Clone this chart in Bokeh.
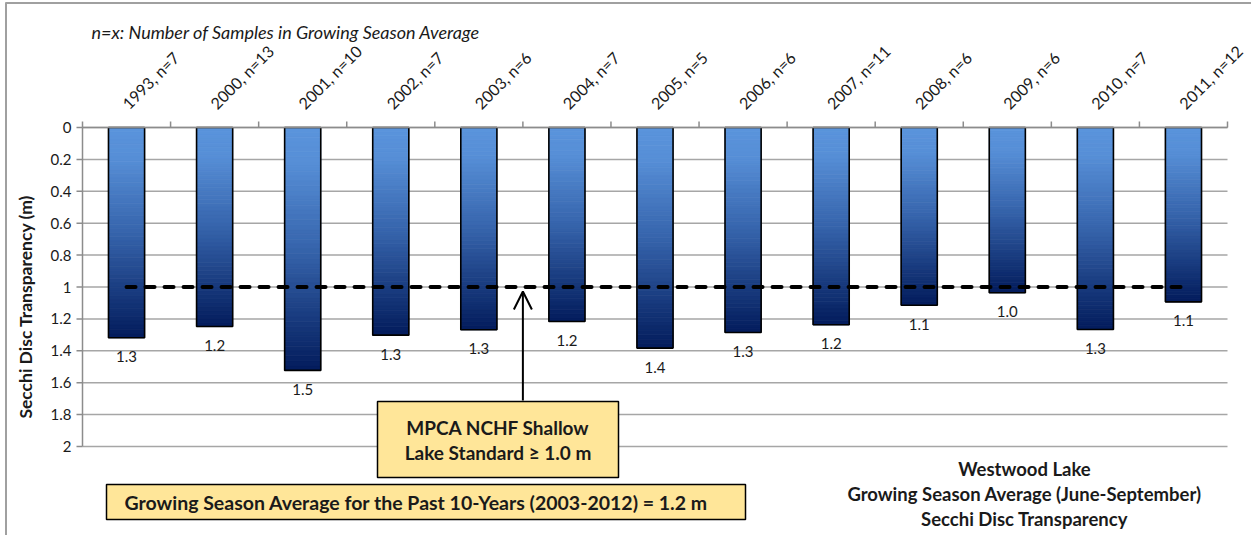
import numpy as np
from math import pi
from bokeh.plotting import figure
from bokeh.models import Range1d, Arrow, OpenHead
from bokeh.core.properties import value
from bokeh.embed import file_html
from bokeh.resources import INLINE

# ---------------- data ----------------
years = ["1993", "2000", "2001", "2002", "2003", "2004", "2005",
         "2006", "2007", "2008", "2009", "2010", "2011"]
samples = [7, 13, 10, 7, 6, 7, 5, 6, 11, 6, 6, 7, 12]
secchi_m = [1.318, 1.248, 1.523, 1.302, 1.268, 1.216, 1.383,
            1.285, 1.237, 1.114, 1.036, 1.266, 1.093]
standard_m = 1.0
y_ticks = [0, 0.2, 0.4, 0.6, 0.8, 1.0, 1.2, 1.4, 1.6, 1.8, 2.0]

note_text = "n=x: Number of Samples in Growing Season Average"
y_label = "Secchi  Disc Transparency (m)"
standard_lines = ["MPCA NCHF Shallow", "Lake Standard \u2265 1.0 m"]
avg_text = "Growing Season Average for the Past 10-Years (2003-2012) = 1.2 m"
title_lines = ["Westwood Lake", "Growing Season Average (June-September)",
               "Secchi Disc Transparency"]

FONT = "Lato"
n = len(years)
x_centers = np.arange(n) + 0.5
boundaries = np.arange(n + 1)
cat_labels = [f"{y}, n={s}" for y, s in zip(years, samples)]
val_labels = [f"{v:.1f}" for v in secchi_m]
tick_labels = [f"{t:g}" for t in y_ticks]

# ---------------- screen mapping (whole canvas is the frame) ----------------
W, H = 1251, 535
X0, Y0 = 82.0, 127.0            # position of category 0 / depth 0
PXX = 1145.0 / n                # pixels per category
PXY = 159.5                     # pixels per metre


def px_x(sx):
    return (sx - X0) / PXX


def px_y(sy):
    return (sy - Y0) / PXY


p = figure(width=W, height=H, min_border=0,
           x_range=Range1d(px_x(0), px_x(W)),
           y_range=Range1d(px_y(H), px_y(0)),
           x_axis_location=None, y_axis_location=None,
           output_backend="svg", toolbar_location=None)
p.outline_line_color = None
p.xgrid.visible = False
p.ygrid.visible = False
p.background_fill_color = "white"
p.border_fill_color = "white"

AX = "#8C8C8C"
GRID = "#A6A6A6"
TXT = "#1A1A1A"

# chart border (left and top)
p.segment(x0=[px_x(5.5)], x1=[px_x(5.5)], y0=[px_y(2)], y1=[px_y(H)],
          line_color="#A0A0A0", line_width=2)
p.segment(x0=[px_x(5)], x1=[px_x(W)], y0=[px_y(2.5)], y1=[px_y(2.5)],
          line_color="#A0A0A0", line_width=2)

# grid lines
p.segment(x0=[0] * len(y_ticks), x1=[n] * len(y_ticks), y0=y_ticks,
          y1=y_ticks, line_color=GRID, line_width=1.5)

# ---------------- gradient bars ----------------
stops = [(0.0, (90, 148, 220)), (0.15, (86, 142, 214)), (0.5, (54, 100, 172)),
         (1.0, (3, 28, 92))]


def grad(t):
    for (t0, c0), (t1, c1) in zip(stops[:-1], stops[1:]):
        if t <= t1:
            f = (t - t0) / (t1 - t0)
            c = [int(round(a + (b - a) * f)) for a, b in zip(c0, c1)]
            return "#%02x%02x%02x" % tuple(c)
    return "#%02x%02x%02x" % stops[-1][1]


BAR_W = 0.41
K = 50
L, R, T, B, C = [], [], [], [], []
for xc, v in zip(x_centers, secchi_m):
    edges = np.linspace(0, v, K + 1)
    for k in range(K):
        L.append(xc - BAR_W / 2)
        R.append(xc + BAR_W / 2)
        T.append(edges[k])
        B.append(edges[k + 1])
        C.append(grad((k + 0.5) / K))
p.quad(left=L, right=R, top=T, bottom=B, fill_color=C, line_color=C,
       line_width=0.8)
p.quad(left=x_centers - BAR_W / 2, right=x_centers + BAR_W / 2,
       top=[0] * n, bottom=secchi_m, fill_color=None, line_color="black",
       line_width=1.6)

# ---------------- axes (drawn) ----------------
# left axis
p.segment(x0=[0], x1=[0], y0=[0], y1=[y_ticks[-1]], line_color=AX,
          line_width=1.5)
p.segment(x0=[px_x(76)] * len(y_ticks), x1=[0] * len(y_ticks), y0=y_ticks,
          y1=y_ticks, line_color=AX, line_width=1.5)
p.text(x=[0] * len(y_ticks), y=y_ticks, text=tick_labels, x_offset=-11,
       text_align="right", text_baseline="middle", text_font=value(FONT),
       text_font_size="15px", text_color=TXT)
# top axis
p.segment(x0=[0], x1=[n], y0=[0], y1=[0], line_color=AX, line_width=1.5)
p.segment(x0=boundaries, x1=boundaries, y0=[0] * (n + 1),
          y1=[px_y(121)] * (n + 1), line_color=AX, line_width=1.5)
p.text(x=x_centers, y=[px_y(112)] * n, text=cat_labels, angle=pi / 4,
       x_offset=5, text_align="left", text_baseline="bottom",
       text_font=value(FONT), text_font_size="16px", text_color=TXT)

# standard line
p.line(x=[x_centers[0], x_centers[-1]], y=[standard_m, standard_m],
       line_color="black", line_width=4, line_dash="9 10", line_cap="round")

# value labels
p.text(x=x_centers, y=secchi_m, text=val_labels, y_offset=19,
       text_align="center", text_baseline="middle",
       text_font=value(FONT), text_font_size="15px", text_color=TXT)

# note & y label
p.text(x=[px_x(91)], y=[px_y(31)], text=[note_text], text_align="left",
       text_baseline="middle", text_font=value(FONT),
       text_font_style="italic", text_font_size="18px", text_color=TXT)
p.text(x=[px_x(25)], y=[px_y(304)], text=[y_label], angle=pi / 2,
       text_align="center", text_baseline="middle", text_font=value(FONT),
       text_font_style="bold", text_font_size="17.5px", text_color=TXT)

# boxes
BOX = "#FFE699"
p.quad(left=[px_x(377)], right=[px_x(618)], top=[px_y(401)],
       bottom=[px_y(477)], fill_color=BOX, line_color="black", line_width=1.5)
p.quad(left=[px_x(106)], right=[px_x(745)], top=[px_y(484)],
       bottom=[px_y(519)], fill_color=BOX, line_color="black", line_width=1.5)
p.text(x=[px_x(497.5)] * 2, y=[px_y(427), px_y(452)], text=standard_lines,
       text_align="center", text_baseline="middle", text_font=value(FONT),
       text_font_style="bold", text_font_size="19px", text_color=TXT)
p.text(x=[px_x(124)], y=[px_y(502)], text=[avg_text], text_align="left",
       text_baseline="middle", text_font=value(FONT), text_font_style="bold",
       text_font_size="19.5px", text_color=TXT)

# arrow
p.add_layout(Arrow(end=OpenHead(size=18, line_width=2, line_color="black"),
                   x_start=5.0, y_start=px_y(400), x_end=5.0, y_end=px_y(291),
                   line_width=2, line_color="black"))

# bottom-right title
p.text(x=[px_x(1024)] * 3, y=[px_y(468), px_y(493), px_y(518)],
       text=title_lines, text_align="center", text_baseline="middle",
       text_font=value(FONT), text_font_style="bold", text_font_size="18.5px",
       text_color=TXT)

open("out.html", "w").write(file_html(p, INLINE))
